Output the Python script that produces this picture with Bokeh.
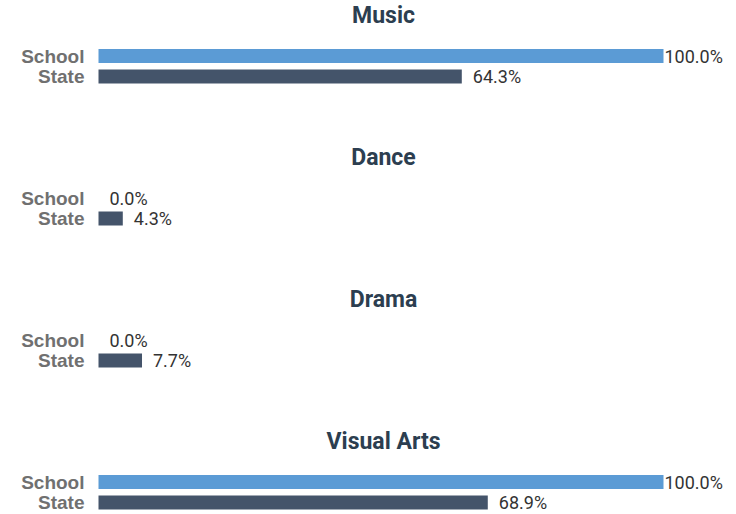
from bokeh.plotting import figure
from bokeh.models import ColumnDataSource, Range1d
from bokeh.core.properties import value
from bokeh.embed import file_html
from bokeh.resources import INLINE

# ---- data ----
categories = ["Music", "Dance", "Drama", "Visual Arts"]
series_names = ["School", "State"]
school_pct = [100.0, 0.0, 0.0, 100.0]
state_pct = [64.3, 4.3, 7.7, 68.9]

# ---- layout (pixels) ----
W, H = 734, 512
ZERO_PX = 98          # x pixel (inside figure) of value 0
FULL_PX = 663         # x pixel of value 100
PERIOD = 142          # vertical distance between panels
TITLE_Y = 14.5
ROW_Y = [41, 61.5]    # School, State offsets below the title
BAR_H = 14

scale = (FULL_PX - ZERO_PX) / 100.0

p = figure(width=W, height=H, output_backend="svg", toolbar_location=None,
           x_axis_location=None, y_axis_location=None,
           x_range=Range1d(-ZERO_PX / scale, (W - ZERO_PX) / scale),
           y_range=Range1d(H, 0),
           min_border=0, outline_line_color=None)
p.grid.visible = False
p.background_fill_color = "white"
p.border_fill_color = "white"

colors = ["#5b9bd5", "#44546a"]

bar_y, bar_v, bar_c, lab_txt, lab_off, name_txt = [], [], [], [], [], []
title_y = []
for i, cat in enumerate(categories):
    base = TITLE_Y + i * PERIOD
    title_y.append(base)
    for j, vals in enumerate([school_pct, state_pct]):
        v = vals[i]
        bar_y.append(base + ROW_Y[j])
        bar_v.append(v)
        bar_c.append(colors[j])
        lab_txt.append(f"{v:.1f}%")
        lab_off.append(1 if v >= 100 else 11)
        name_txt.append(series_names[j])

bars = ColumnDataSource(dict(y=bar_y, v=bar_v, c=bar_c, lab=lab_txt,
                             off=lab_off, name=name_txt,
                             zero=[0] * len(bar_y)))

p.hbar(y="y", left="zero", right="v", height=BAR_H, fill_color="c",
       line_color=None, source=bars)

p.text(x="v", y="y", text="lab", x_offset="off", source=bars,
       text_font=value("Roboto"), text_font_size="18px",
       text_color="#333333", text_baseline="middle", text_align="left")

p.text(x="zero", y="y", text="name", x_offset=-14, source=bars,
       text_font=value("Liberation Sans"), text_font_style="bold",
       text_font_size="19px", text_color="#707070",
       text_baseline="middle", text_align="right")

titles = ColumnDataSource(dict(x=[50] * len(categories), y=title_y,
                               t=categories))
p.text(x="x", y="y", text="t", x_offset=2.5, source=titles,
       text_font=value("Roboto"), text_font_style="bold",
       text_font_size="23px", text_color="#2c3e50",
       text_baseline="middle", text_align="center")

open("out.html", "w").write(file_html(p, INLINE))
